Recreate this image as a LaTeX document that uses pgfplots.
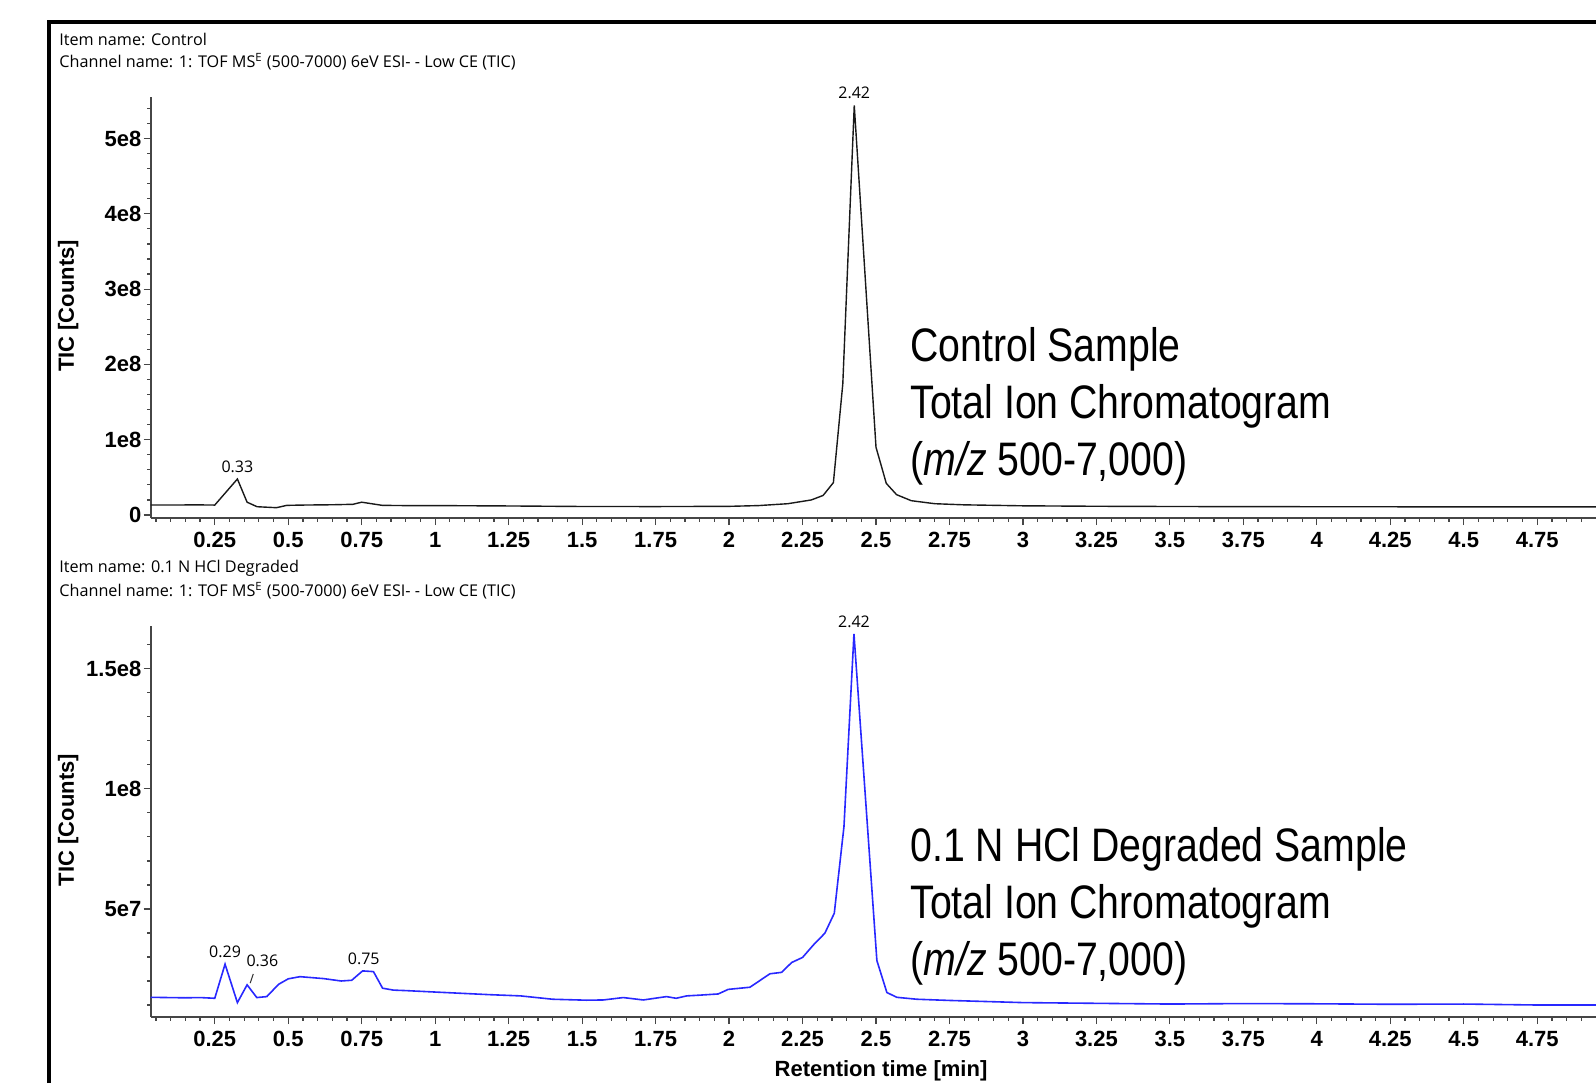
\documentclass[border=0pt]{standalone}
\usepackage{fontspec}
\setmainfont{Liberation Sans}
\newfontfamily\hdr{Open Sans}
\newfontfamily\narrow[FakeStretch=0.835]{Liberation Sans}
\usepackage{pgfplots}
\pgfplotsset{compat=1.18}
\definecolor{axgray}{RGB}{70,70,70}
\definecolor{tracblue}{RGB}{40,40,255}
\pgfplotsset{chrom/.style={
  scale only axis, width=722.65pt,
  xmin=0.032, xmax=4.95,
  axis x line=bottom, axis y line=left,
  axis line style={-, line width=1pt, draw=axgray},
  tick align=outside,
  major tick length=3.5pt, minor tick length=1.75pt,
  tick style={draw=axgray, line width=0.6pt},
  scaled ticks=false,
  xtick={0.25,0.5,0.75,1,1.25,1.5,1.75,2,2.25,2.5,2.75,3,3.25,3.5,3.75,4,4.25,4.5,4.75},
  xticklabels={0.25,0.5,0.75,1,1.25,1.5,1.75,2,2.25,2.5,2.75,3,3.25,3.5,3.75,4,4.25,4.5,4.75},
  minor xtick={0.05,0.1,0.15,0.2,0.3,0.35,0.4,0.45,0.55,0.6,0.65,0.7,0.8,0.85,0.9,0.95,1.05,1.1,1.15,1.2,1.3,1.35,1.4,1.45,1.55,1.6,1.65,1.7,1.8,1.85,1.9,1.95,2.05,2.1,2.15,2.2,2.3,2.35,2.4,2.45,2.55,2.6,2.65,2.7,2.8,2.85,2.9,2.95,3.05,3.1,3.15,3.2,3.3,3.35,3.4,3.45,3.55,3.6,3.65,3.7,3.8,3.85,3.9,3.95,4.05,4.1,4.15,4.2,4.3,4.35,4.4,4.45,4.55,4.6,4.65,4.7,4.8,4.85,4.9},
  tick label style={font=\fontsize{11}{13}\selectfont\bfseries},
  yticklabel style={inner sep=1pt},
  clip=false,
}}
\begin{document}
\begin{tikzpicture}
\path[use as bounding box] (0,0) rectangle (798pt,-541.5pt);
\draw[line width=2pt] (24.5pt,-541.5pt) -- (24.5pt,-11.2pt) -- (798pt,-11.2pt);

\node[anchor=west, inner sep=0, font=\hdr\fontsize{8.1}{9}\selectfont] at (29.5pt,-19.85pt) {Item name: Control};
\node[anchor=west, inner sep=0, font=\hdr\fontsize{8.1}{9}\selectfont] at (29.5pt,-31pt) {Channel name: 1: TOF MS\textsuperscript{E} (500-7000) 6eV ESI- - Low CE (TIC)};
\node[anchor=west, inner sep=0, font=\hdr\fontsize{8.1}{9}\selectfont] at (29.5pt,-284pt) {Item name: 0.1 N HCl Degraded};
\node[anchor=west, inner sep=0, font=\hdr\fontsize{8.1}{9}\selectfont] at (29.5pt,-295.2pt) {Channel name: 1: TOF MS\textsuperscript{E} (500-7000) 6eV ESI- - Low CE (TIC)};

\node[rotate=90, inner sep=0, font=\fontsize{11}{13}\selectfont\bfseries] at (34.1pt,-153pt) {TIC [Counts]};
\node[rotate=90, inner sep=0, font=\fontsize{11}{13}\selectfont\bfseries] at (34.1pt,-410pt) {TIC [Counts]};
\node[inner sep=0, font=\fontsize{11}{13}\selectfont\bfseries] at (440.5pt,-535.5pt) {Retention time [min]};

\node[anchor=base west, inner sep=0, align=left, font=\narrow\fontsize{23.5}{28.5}\selectfont] at (455pt,-237.7pt) {Control Sample\\Total Ion Chromatogram\\(\textit{m/z} 500-7,000)};
\node[anchor=base west, inner sep=0, align=left, font=\narrow\fontsize{23.5}{28.5}\selectfont] at (455pt,-487.6pt) {0.1 N HCl Degraded Sample\\Total Ion Chromatogram\\(\textit{m/z} 500-7,000)};

\begin{axis}[chrom, at={(75.35pt,-259pt)}, anchor=south west, height=210.65pt,
  ymin=-4e6, ymax=5.555e8,
  ytick={0,1e8,2e8,3e8,4e8,5e8}, yticklabels={0,1e8,2e8,3e8,4e8,5e8},
  minor ytick={2e7,4e7,6e7,8e7,12e7,14e7,16e7,18e7,22e7,24e7,26e7,28e7,32e7,34e7,36e7,38e7,42e7,44e7,46e7,48e7,52e7,54e7}]
\addplot[line width=0.7pt, color=black!90] coordinates {
(0.032,1.33e7) (0.10,1.33e7) (0.20,1.34e7) (0.25,1.32e7) (0.327,4.78e7) (0.36,1.7e7)
(0.394,1.1e7) (0.46,0.97e7) (0.495,1.28e7) (0.55,1.32e7) (0.65,1.36e7) (0.72,1.42e7)
(0.75,1.7e7) (0.82,1.28e7) (0.90,1.25e7) (1.0,1.25e7) (1.25,1.2e7) (1.5,1.13e7)
(1.75,1.12e7) (2.0,1.15e7) (2.10,1.25e7) (2.20,1.5e7) (2.28,2.0e7) (2.32,2.6e7)
(2.355,4.3e7) (2.387,1.74e8) (2.426,5.44e8) (2.50,0.9e8) (2.535,0.42e8) (2.57,2.7e7)
(2.62,1.9e7) (2.70,1.5e7) (2.8,1.35e7) (3.0,1.22e7) (3.25,1.16e7) (3.5,1.13e7)
(3.75,1.11e7) (4.0,1.1e7) (4.5,1.08e7) (4.95,1.08e7)};
\node[anchor=base, inner sep=0, yshift=3.3pt, font=\hdr\fontsize{8}{9}\selectfont] at (axis cs:2.426,5.44e8) {2.42};
\node[anchor=base, inner sep=0, yshift=3.1pt, font=\hdr\fontsize{8}{9}\selectfont] at (axis cs:0.327,4.78e7) {0.33};
\end{axis}

\begin{axis}[chrom, at={(75.35pt,-508.5pt)}, anchor=south west, height=195.5pt,
  ymin=5e6, ymax=1.678e8,
  ytick={5e7,1e8,1.5e8}, yticklabels={5e7,1e8,1.5e8},
  minor ytick={1e7,2e7,3e7,4e7,6e7,7e7,8e7,9e7,11e7,12e7,13e7,14e7,16e7}]
\addplot[line width=0.8pt, color=tracblue] coordinates {
(0.032,1.32e7) (0.15,1.30e7) (0.20,1.31e7) (0.25,1.28e7) (0.285,2.70e7) (0.327,1.10e7)
(0.36,1.84e7) (0.393,1.31e7) (0.427,1.35e7) (0.467,1.86e7) (0.50,2.09e7) (0.54,2.18e7)
(0.62,2.10e7) (0.68,2.00e7) (0.716,2.03e7) (0.753,2.42e7) (0.79,2.39e7) (0.821,1.70e7)
(0.858,1.62e7) (0.90,1.60e7) (1.016,1.53e7) (1.186,1.43e7) (1.29,1.38e7) (1.40,1.24e7)
(1.515,1.20e7) (1.572,1.21e7) (1.64,1.31e7) (1.708,1.21e7) (1.787,1.35e7) (1.82,1.28e7)
(1.856,1.38e7) (1.90,1.41e7) (1.963,1.46e7) (1.997,1.65e7) (2.071,1.74e7) (2.139,2.30e7)
(2.179,2.36e7) (2.213,2.77e7) (2.250,2.98e7) (2.287,3.50e7) (2.326,3.99e7) (2.358,4.82e7)
(2.391,8.43e7) (2.425,16.45e7) (2.503,2.85e7) (2.537,1.52e7) (2.571,1.32e7) (2.639,1.24e7)
(2.75,1.19e7) (3.0,1.10e7) (3.25,1.07e7) (3.5,1.04e7) (3.75,1.06e7) (4.0,1.05e7)
(4.25,1.03e7) (4.5,1.04e7) (4.75,1.00e7) (4.95,1.00e7)};
\node[anchor=base, inner sep=0, yshift=3.1pt, font=\hdr\fontsize{8}{9}\selectfont] at (axis cs:2.425,16.45e7) {2.42};
\node[anchor=base, inner sep=0, yshift=3.4pt, font=\hdr\fontsize{8}{9}\selectfont] at (axis cs:0.285,2.70e7) {0.29};
\node[anchor=base, inner sep=0, xshift=7.65pt, yshift=9.1pt, font=\hdr\fontsize{8}{9}\selectfont] at (axis cs:0.36,1.84e7) {0.36};
\draw[line width=0.5pt, black!80] ([shift={(1.55pt,0.85pt)}]axis cs:0.36,1.84e7) -- ([shift={(3.1pt,5.45pt)}]axis cs:0.36,1.84e7);
\node[anchor=base, inner sep=0, yshift=3.1pt, font=\hdr\fontsize{8}{9}\selectfont] at (axis cs:0.757,2.42e7) {0.75};
\end{axis}
\end{tikzpicture}
\end{document}
